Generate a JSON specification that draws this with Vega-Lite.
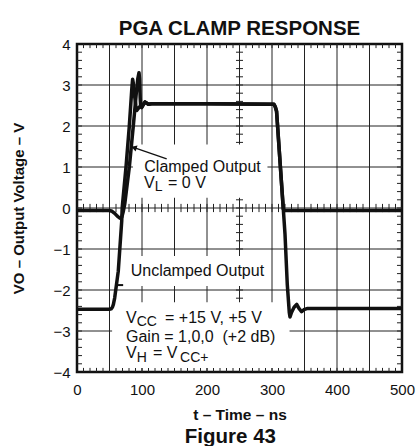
{
  "$schema": "https://vega.github.io/schema/vega-lite/v6.json",
  "width": 325,
  "height": 328,
  "autosize": {"type": "none"},
  "padding": {"left": 77, "top": 44, "right": 15, "bottom": 74},
  "background": "white",
  "title": {"text": "PGA CLAMP RESPONSE", "font": "Liberation Sans", "fontSize": 20.5, "fontWeight": "bold", "color": "#111", "offset": -2, "anchor": "middle"},
  "config": {
    "view": {"stroke": "#111", "strokeWidth": 2.5},
    "axis": {
      "labelFont": "Liberation Sans", "titleFont": "Liberation Sans", "labelColor": "#111", "titleColor": "#111",
      "labelFlush": false, "labelOverlap": false, "ticks": false, "grid": false, "domain": false
    }
  },
  "datasets": {
    "curves": [
      {"series": "Clamped Output", "t": 0, "v": -0.06},
      {"series": "Clamped Output", "t": 50, "v": -0.06},
      {"series": "Clamped Output", "t": 54, "v": -0.08},
      {"series": "Clamped Output", "t": 58, "v": -0.13},
      {"series": "Clamped Output", "t": 62, "v": -0.2},
      {"series": "Clamped Output", "t": 66, "v": -0.25},
      {"series": "Clamped Output", "t": 69, "v": -0.22},
      {"series": "Clamped Output", "t": 71, "v": -0.1},
      {"series": "Clamped Output", "t": 73.5, "v": 0.1},
      {"series": "Clamped Output", "t": 80.5, "v": 1.0},
      {"series": "Clamped Output", "t": 86.6, "v": 2.0},
      {"series": "Clamped Output", "t": 91.5, "v": 2.85},
      {"series": "Clamped Output", "t": 93.5, "v": 3.15},
      {"series": "Clamped Output", "t": 95.4, "v": 3.3},
      {"series": "Clamped Output", "t": 96.3, "v": 3.15},
      {"series": "Clamped Output", "t": 97.2, "v": 2.7},
      {"series": "Clamped Output", "t": 98, "v": 2.48},
      {"series": "Clamped Output", "t": 99.5, "v": 2.45},
      {"series": "Clamped Output", "t": 102, "v": 2.52},
      {"series": "Clamped Output", "t": 104.6, "v": 2.59},
      {"series": "Clamped Output", "t": 107, "v": 2.56},
      {"series": "Clamped Output", "t": 109.7, "v": 2.53},
      {"series": "Clamped Output", "t": 115, "v": 2.54},
      {"series": "Clamped Output", "t": 200, "v": 2.54},
      {"series": "Clamped Output", "t": 303, "v": 2.53},
      {"series": "Clamped Output", "t": 305, "v": 2.47},
      {"series": "Clamped Output", "t": 307, "v": 2.36},
      {"series": "Clamped Output", "t": 317.4, "v": -0.03},
      {"series": "Clamped Output", "t": 319, "v": -0.06},
      {"series": "Clamped Output", "t": 400, "v": -0.06},
      {"series": "Clamped Output", "t": 500, "v": -0.06},
      {"series": "Unclamped Output", "t": 0, "v": -2.47},
      {"series": "Unclamped Output", "t": 50, "v": -2.47},
      {"series": "Unclamped Output", "t": 52.5, "v": -2.46},
      {"series": "Unclamped Output", "t": 54.5, "v": -2.42},
      {"series": "Unclamped Output", "t": 56, "v": -2.35},
      {"series": "Unclamped Output", "t": 58, "v": -2.19},
      {"series": "Unclamped Output", "t": 63.5, "v": -1.54},
      {"series": "Unclamped Output", "t": 68.8, "v": -0.32},
      {"series": "Unclamped Output", "t": 69.5, "v": 0.0},
      {"series": "Unclamped Output", "t": 75.4, "v": 1.0},
      {"series": "Unclamped Output", "t": 80.5, "v": 2.0},
      {"series": "Unclamped Output", "t": 84.5, "v": 2.95},
      {"series": "Unclamped Output", "t": 85.6, "v": 3.14},
      {"series": "Unclamped Output", "t": 86.6, "v": 3.05},
      {"series": "Unclamped Output", "t": 88.5, "v": 2.75},
      {"series": "Unclamped Output", "t": 90.5, "v": 2.5},
      {"series": "Unclamped Output", "t": 92, "v": 2.38},
      {"series": "Unclamped Output", "t": 94, "v": 2.42},
      {"series": "Unclamped Output", "t": 97, "v": 2.48},
      {"series": "Unclamped Output", "t": 100, "v": 2.47},
      {"series": "Unclamped Output", "t": 102, "v": 2.52},
      {"series": "Unclamped Output", "t": 104.6, "v": 2.58},
      {"series": "Unclamped Output", "t": 107, "v": 2.56},
      {"series": "Unclamped Output", "t": 110, "v": 2.53},
      {"series": "Unclamped Output", "t": 115, "v": 2.54},
      {"series": "Unclamped Output", "t": 200, "v": 2.54},
      {"series": "Unclamped Output", "t": 303, "v": 2.53},
      {"series": "Unclamped Output", "t": 305, "v": 2.47},
      {"series": "Unclamped Output", "t": 307, "v": 2.36},
      {"series": "Unclamped Output", "t": 317.4, "v": -0.03},
      {"series": "Unclamped Output", "t": 320, "v": -0.64},
      {"series": "Unclamped Output", "t": 323.5, "v": -1.86},
      {"series": "Unclamped Output", "t": 326.6, "v": -2.55},
      {"series": "Unclamped Output", "t": 327.7, "v": -2.66},
      {"series": "Unclamped Output", "t": 330, "v": -2.55},
      {"series": "Unclamped Output", "t": 334, "v": -2.42},
      {"series": "Unclamped Output", "t": 338, "v": -2.35},
      {"series": "Unclamped Output", "t": 341.5, "v": -2.45},
      {"series": "Unclamped Output", "t": 345.5, "v": -2.53},
      {"series": "Unclamped Output", "t": 349, "v": -2.48},
      {"series": "Unclamped Output", "t": 355, "v": -2.45},
      {"series": "Unclamped Output", "t": 500, "v": -2.45}
    ],
    "gridx": [{"t": 50}, {"t": 100}, {"t": 150}, {"t": 200}, {"t": 250}, {"t": 300}, {"t": 350}, {"t": 400}, {"t": 450}],
    "gridy": [{"v": -3}, {"v": -2}, {"v": -1}, {"v": 0}, {"v": 1}, {"v": 2}, {"v": 3}],
    "hticks": [
      {"t": 10}, {"t": 20}, {"t": 30}, {"t": 40}, {"t": 50}, {"t": 60}, {"t": 70}, {"t": 80}, {"t": 90}, {"t": 100},
      {"t": 110}, {"t": 120}, {"t": 130}, {"t": 140}, {"t": 150}, {"t": 160}, {"t": 170}, {"t": 180}, {"t": 190}, {"t": 200},
      {"t": 210}, {"t": 220}, {"t": 230}, {"t": 240}, {"t": 250}, {"t": 260}, {"t": 270}, {"t": 280}, {"t": 290}, {"t": 300},
      {"t": 310}, {"t": 320}, {"t": 330}, {"t": 340}, {"t": 350}, {"t": 360}, {"t": 370}, {"t": 380}, {"t": 390}, {"t": 400},
      {"t": 410}, {"t": 420}, {"t": 430}, {"t": 440}, {"t": 450}, {"t": 460}, {"t": 470}, {"t": 480}, {"t": 490}
    ],
    "vticks": [
      {"v": -3.8}, {"v": -3.6}, {"v": -3.4}, {"v": -3.2}, {"v": -3}, {"v": -2.8}, {"v": -2.6}, {"v": -2.4}, {"v": -2.2}, {"v": -2},
      {"v": -1.8}, {"v": -1.6}, {"v": -1.4}, {"v": -1.2}, {"v": -1}, {"v": -0.8}, {"v": -0.6}, {"v": -0.4}, {"v": -0.2}, {"v": 0},
      {"v": 0.2}, {"v": 0.4}, {"v": 0.6}, {"v": 0.8}, {"v": 1}, {"v": 1.2}, {"v": 1.4}, {"v": 1.6}, {"v": 1.8}, {"v": 2},
      {"v": 2.2}, {"v": 2.4}, {"v": 2.6}, {"v": 2.8}, {"v": 3}, {"v": 3.2}, {"v": 3.4}, {"v": 3.6}, {"v": 3.8}
    ],
    "boxes": [
      {"t1": 86, "t2": 293, "v1": 0.25, "v2": 1.55},
      {"t1": 71, "t2": 294, "v1": -1.9, "v2": -1.17},
      {"t1": 54, "t2": 327, "v1": -3.9, "v2": -2.3}
    ],
    "arrows": [
      {"t1": 138, "v1": 1.2, "t2": 89, "v2": 1.465}
    ],
    "pointers": [
      {"t1": 61, "t2": 71, "v": -1.88}
    ],
    "heads": [
      {"t": 89, "v": 1.465}
    ],
    "labels": [
      {"label": "Clamped Output", "t": 103.5, "v": 0.88},
      {"label": "V", "t": 103.1, "v": 0.48},
      {"label": "= 0 V", "t": 140, "v": 0.48},
      {"label": "Unclamped Output", "t": 82.6, "v": -1.65},
      {"label": "V", "t": 75.4, "v": -2.8},
      {"label": "= +15 V, +5 V", "t": 135.4, "v": -2.8},
      {"label": "Gain = 1,0,0 \u00a0(+2 dB)", "t": 75.4, "v": -3.26},
      {"label": "V", "t": 75.4, "v": -3.66},
      {"label": "= V", "t": 116.9, "v": -3.66}
    ],
    "subs": [
      {"label": "L", "t": 119.5, "v": 0.41},
      {"label": "CC", "t": 91.8, "v": -2.875},
      {"label": "H", "t": 91.8, "v": -3.76},
      {"label": "CC+", "t": 158.5, "v": -3.76}
    ],
    "caption": [
      {"label": "Figure 43", "t": 236, "v": -5.72}
    ]
  },
  "layer": [
    {
      "data": {"name": "gridx"},
      "mark": {"type": "rule", "color": "#222", "strokeWidth": 1},
      "encoding": {
        "x": {"field": "t", "type": "quantitative", "scale": {"domain": [0, 500], "nice": false, "zero": false}}
      }
    },
    {
      "data": {"name": "gridy"},
      "mark": {"type": "rule", "color": "#222", "strokeWidth": 1},
      "encoding": {
        "y": {"field": "v", "type": "quantitative", "scale": {"domain": [-4, 4], "nice": false, "zero": false}}
      }
    },
    {
      "data": {"name": "hticks"},
      "mark": {"type": "rule", "color": "#222", "strokeWidth": 1},
      "encoding": {
        "x": {"field": "t", "type": "quantitative"},
        "y": {"datum": -4, "type": "quantitative"},
        "y2": {"datum": -3.9}
      }
    },
    {
      "data": {"name": "hticks"},
      "mark": {"type": "rule", "color": "#222", "strokeWidth": 1},
      "encoding": {
        "x": {"field": "t", "type": "quantitative"},
        "y": {"datum": 4, "type": "quantitative"},
        "y2": {"datum": 3.9}
      }
    },
    {
      "data": {"name": "hticks"},
      "mark": {"type": "rule", "color": "#222", "strokeWidth": 1},
      "encoding": {
        "x": {"field": "t", "type": "quantitative"},
        "y": {"datum": -0.1, "type": "quantitative"},
        "y2": {"datum": 0.1}
      }
    },
    {
      "data": {"name": "vticks"},
      "mark": {"type": "rule", "color": "#222", "strokeWidth": 1},
      "encoding": {
        "y": {"field": "v", "type": "quantitative"},
        "x": {"datum": 0.001, "type": "quantitative"},
        "x2": {"datum": 7.7}
      }
    },
    {
      "data": {"name": "vticks"},
      "mark": {"type": "rule", "color": "#222", "strokeWidth": 1},
      "encoding": {
        "y": {"field": "v", "type": "quantitative"},
        "x": {"datum": 500, "type": "quantitative"},
        "x2": {"datum": 492.3}
      }
    },
    {
      "data": {"name": "vticks"},
      "mark": {"type": "rule", "color": "#222", "strokeWidth": 1},
      "encoding": {
        "y": {"field": "v", "type": "quantitative"},
        "x": {"datum": 244.6, "type": "quantitative"},
        "x2": {"datum": 255.4}
      }
    },
    {
      "data": {"name": "boxes"},
      "mark": {"type": "rect", "fill": "white", "stroke": null},
      "encoding": {
        "x": {"field": "t1", "type": "quantitative"},
        "x2": {"field": "t2"},
        "y": {"field": "v1", "type": "quantitative"},
        "y2": {"field": "v2"}
      }
    },
    {
      "data": {"name": "curves"},
      "mark": {"type": "line", "color": "#111", "strokeWidth": 3.5, "strokeJoin": "round", "interpolate": "linear"},
      "encoding": {
        "x": {"field": "t", "type": "quantitative", "scale": {"domain": [0, 500], "nice": false, "zero": false},
          "axis": {"orient": "bottom", "title": "t – Time – ns", "titleFontSize": 15.5, "titleFontWeight": "bold", "titlePadding": 10,
            "labelFontSize": 15, "labelPadding": 10, "labelOverlap": false, "labelFlush": false,
            "values": [0, 100, 200, 300, 400, 500]}},
        "y": {"field": "v", "type": "quantitative", "scale": {"domain": [-4, 4], "nice": false, "zero": false},
          "axis": {"orient": "left", "title": "VO – Output Voltage – V", "titleFontSize": 15, "titleFontWeight": "bold", "titlePadding": 26,
            "labelFontSize": 15, "labelPadding": 7, "labelOverlap": false, "labelFlush": false, "format": "d",
            "values": [-4, -3, -2, -1, 0, 1, 2, 3, 4]}},
        "detail": {"field": "series"}
      }
    },
    {
      "data": {"name": "arrows"},
      "mark": {"type": "rule", "color": "#111", "strokeWidth": 1.3},
      "encoding": {
        "x": {"field": "t1", "type": "quantitative"},
        "y": {"field": "v1", "type": "quantitative"},
        "x2": {"field": "t2"},
        "y2": {"field": "v2"}
      }
    },
    {
      "data": {"name": "pointers"},
      "mark": {"type": "rule", "color": "#111", "strokeWidth": 2},
      "encoding": {
        "x": {"field": "t1", "type": "quantitative"},
        "x2": {"field": "t2"},
        "y": {"field": "v", "type": "quantitative"}
      }
    },
    {
      "data": {"name": "heads"},
      "mark": {"type": "point", "shape": "triangle", "filled": true, "color": "#111", "size": 40, "angle": 288, "opacity": 1},
      "encoding": {
        "x": {"field": "t", "type": "quantitative"},
        "y": {"field": "v", "type": "quantitative"}
      }
    },
    {
      "data": {"name": "labels"},
      "mark": {"type": "text", "align": "left", "baseline": "alphabetic", "font": "Liberation Sans", "fontSize": 16, "color": "#111"},
      "encoding": {
        "x": {"field": "t", "type": "quantitative"},
        "y": {"field": "v", "type": "quantitative"},
        "text": {"field": "label"}
      }
    },
    {
      "data": {"name": "subs"},
      "mark": {"type": "text", "align": "left", "baseline": "alphabetic", "font": "Liberation Sans", "fontSize": 14, "color": "#111"},
      "encoding": {
        "x": {"field": "t", "type": "quantitative"},
        "y": {"field": "v", "type": "quantitative"},
        "text": {"field": "label"}
      }
    },
    {
      "data": {"name": "caption"},
      "mark": {"type": "text", "align": "center", "baseline": "alphabetic", "font": "Liberation Sans", "fontSize": 20.5, "fontWeight": "bold", "color": "#111"},
      "encoding": {
        "x": {"field": "t", "type": "quantitative"},
        "y": {"field": "v", "type": "quantitative"},
        "text": {"field": "label"}
      }
    }
  ]
}
